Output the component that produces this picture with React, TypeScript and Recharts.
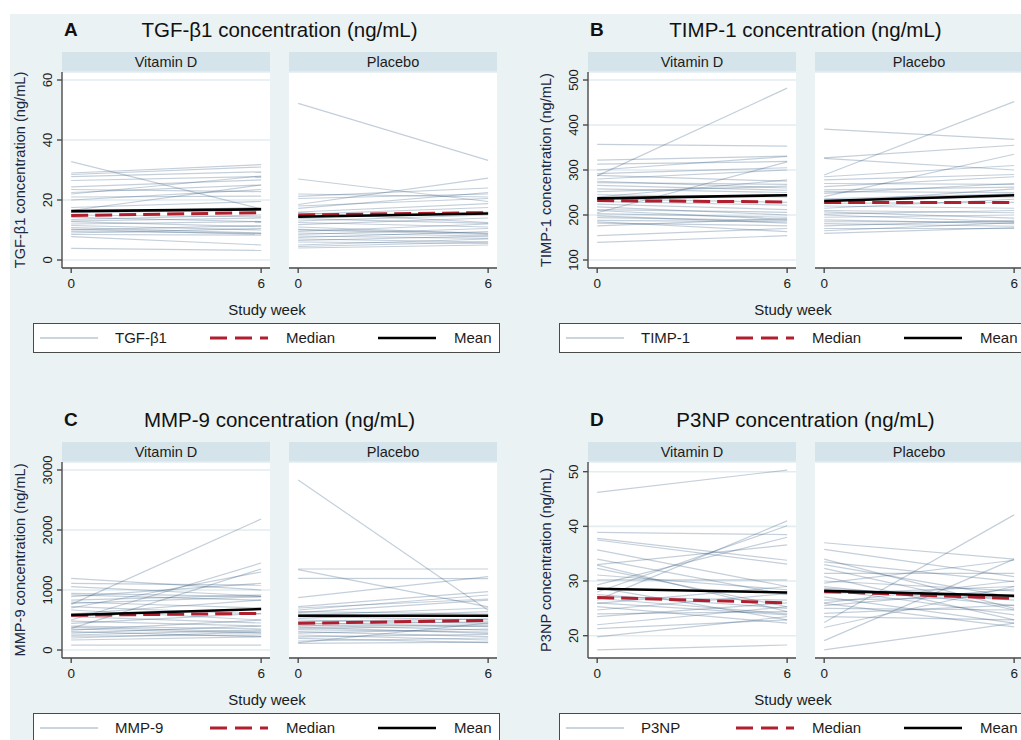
import React from 'react';
import { LineChart, Line, XAxis, YAxis, CartesianGrid } from 'recharts';

// ---------- data: each pair is [week 0, week 6] for one participant ----------
const weeks = [0, 6];

const tgfVitaminD = [
  [32.8, 17.0], [29.0, 31.8], [28.5, 31.0], [27.8, 29.4], [26.5, 27.8], [24.4, 26.7],
  [23.5, 22.8], [22.5, 25.0], [22.0, 28.0], [21.0, 21.3], [20.0, 23.5], [17.5, 19.5],
  [16.5, 25.0], [15.8, 16.7], [15.0, 14.4], [14.2, 12.8], [13.5, 15.0], [12.8, 11.1],
  [12.0, 12.8], [11.5, 10.0], [10.8, 9.0], [10.2, 8.6], [10.0, 11.5], [9.5, 8.9],
  [9.0, 10.5], [8.5, 8.3], [7.8, 5.0], [3.9, 3.2], [13.0, 14.0], [16.0, 17.5],
];
const tgfPlacebo = [
  [52.2, 33.2], [27.0, 19.5], [22.0, 21.0], [21.2, 24.0], [20.5, 22.0], [18.5, 27.3],
  [18.0, 20.5], [17.2, 22.5], [16.0, 18.8], [15.2, 17.5], [14.5, 16.0], [13.8, 12.2],
  [13.0, 15.0], [12.5, 11.0], [11.8, 14.0], [10.2, 9.0], [10.0, 8.5], [9.5, 12.0],
  [9.0, 8.0], [8.5, 10.5], [8.0, 7.2], [7.5, 9.5], [7.0, 6.0], [6.5, 8.0],
  [6.0, 5.5], [5.0, 7.0], [4.5, 6.0], [4.0, 5.0], [11.0, 8.8], [15.8, 12.5],
];
const tgfVitaminDMean = [16.3, 16.9];
const tgfVitaminDMedian = [14.8, 15.8];
const tgfPlaceboMean = [14.4, 15.5];
const tgfPlaceboMedian = [15.0, 15.8];
const tgfTicks = [0, 20, 40, 60];

const timpVitaminD = [
  [287, 482], [357, 353], [322, 331], [313, 319], [300, 330], [292, 305], [288, 275],
  [280, 300], [275, 260], [272, 268], [266, 255], [258, 250], [252, 264], [245, 240],
  [240, 278], [236, 228], [230, 222], [224, 212], [218, 200], [212, 206], [205, 318],
  [203, 195], [198, 182], [194, 188], [188, 185], [182, 176], [176, 192], [154, 170],
  [139, 154], [185, 163], [210, 190],
];
const timpPlacebo = [
  [391, 368], [289, 452], [327, 355], [326, 300], [285, 310], [278, 290], [270, 268],
  [263, 285], [256, 262], [252, 250], [248, 270], [241, 335], [236, 247], [233, 240],
  [228, 258], [226, 228], [220, 215], [215, 235], [210, 205], [207, 193], [202, 210],
  [200, 185], [195, 200], [189, 181], [185, 185], [181, 175], [176, 188], [170, 170],
  [165, 183], [159, 172],
];
const timpVitaminDMean = [237, 244];
const timpVitaminDMedian = [232, 229];
const timpPlaceboMean = [231, 244];
const timpPlaceboMedian = [228, 228];
const timpTicks = [100, 200, 300, 400, 500];

const mmpVitaminD = [
  [761, 2183], [1194, 1000], [1111, 1080], [1056, 900], [944, 889], [920, 830],
  [889, 1111], [833, 917], [800, 700], [778, 889], [722, 600], [700, 1300], [667, 500],
  [600, 833], [556, 450], [500, 1450], [480, 400], [444, 611], [400, 350], [361, 1350],
  [350, 278], [330, 500], [306, 222], [280, 400], [250, 333], [230, 250], [200, 300],
  [167, 222], [83, 83], [380, 300],
];
const mmpPlacebo = [
  [2833, 661], [1350, 1350], [1340, 720], [1194, 1190], [872, 1222], [722, 972],
  [700, 850], [667, 917], [640, 600], [622, 833], [600, 556], [583, 700], [560, 500],
  [528, 640], [500, 444], [472, 520], [450, 389], [430, 470], [417, 333], [400, 420],
  [380, 278], [361, 400], [340, 300], [306, 222], [280, 350], [250, 167], [220, 260],
  [194, 122], [150, 200], [122, 450], [110, 130],
];
const mmpVitaminDMean = [583, 683];
const mmpVitaminDMedian = [578, 611];
const mmpPlaceboMean = [572, 572];
const mmpPlaceboMedian = [444, 494];
const mmpTicks = [0, 1000, 2000, 3000];

const p3npVitaminD = [
  [46.2, 50.3], [38.9, 38.5], [37.8, 33.8], [37.5, 33.1], [35.7, 29.0], [34.0, 27.5],
  [33.0, 36.6], [32.9, 24.4], [32.3, 25.3], [31.1, 28.4], [30.2, 30.2], [29.3, 38.0],
  [28.8, 22.9], [28.0, 40.1], [27.1, 26.5], [26.5, 41.0], [26.0, 23.8], [25.9, 29.0],
  [25.3, 22.3], [24.7, 27.7], [24.0, 24.4], [23.5, 26.0], [22.0, 25.3], [21.3, 22.9],
  [19.8, 23.5], [17.4, 18.3], [26.8, 24.0], [27.5, 25.0],
];
const p3npPlacebo = [
  [37.0, 34.0], [35.8, 30.8], [34.0, 25.0], [33.5, 29.9], [33.0, 27.0], [32.3, 24.7],
  [31.4, 31.4], [30.8, 22.9], [30.0, 28.2], [29.6, 33.8], [28.7, 26.5], [28.5, 23.8],
  [27.7, 29.0], [27.1, 22.3], [26.5, 27.1], [25.9, 21.6], [25.5, 28.5], [25.0, 24.7],
  [24.1, 25.6], [23.5, 22.9], [22.4, 42.1], [21.5, 29.0], [19.1, 34.0], [17.4, 22.3],
  [26.0, 30.0], [29.0, 25.5],
];
const p3npVitaminDMean = [28.6, 27.9];
const p3npVitaminDMedian = [27.0, 26.0];
const p3npPlaceboMean = [28.2, 27.3];
const p3npPlaceboMedian = [28.1, 26.8];
const p3npTicks = [20, 30, 40, 50];

const facetNames = ['Vitamin D', 'Placebo'];
const legendMedian = 'Median';
const legendMean = 'Mean';
const xTitle = 'Study week';

// ---------- styles ----------
const FONT = '"Liberation Sans", Arial, Helvetica, sans-serif';
const BG = '#EAF2F3';
const STRIP = '#D5E4EA';
const SPAG = '#1A476F';
const MEDIAN_C = '#B01F2E';
const AXIS_C = '#4a4a4a';
const TEXT_C = '#1c1c1c';

const PLOT_W = 208;
const PLOT_H = 196;
const Y_AXIS_W = 40;
const X_AXIS_H = 30;
const TOP_PAD = 16;
const FACET_GAP = 227;
const xDomain = [-0.29, 6.28];

type Pair = number[];

const panels = [
  {
    letter: 'A', title: 'TGF-β1 concentration (ng/mL)', yTitle: 'TGF-β1 concentration (ng/mL)',
    legend: 'TGF-β1', ticks: tgfTicks, domain: [-2.67, 62.67], ox: 0, oy: 0,
    facets: [
      { lines: tgfVitaminD, mean: tgfVitaminDMean, median: tgfVitaminDMedian },
      { lines: tgfPlacebo, mean: tgfPlaceboMean, median: tgfPlaceboMedian },
    ],
  },
  {
    letter: 'B', title: 'TIMP-1 concentration (ng/mL)', yTitle: 'TIMP-1 concentration (ng/mL)',
    legend: 'TIMP-1', ticks: timpTicks, domain: [82.2, 517.8], ox: 526, oy: 0,
    facets: [
      { lines: timpVitaminD, mean: timpVitaminDMean, median: timpVitaminDMedian },
      { lines: timpPlacebo, mean: timpPlaceboMean, median: timpPlaceboMedian },
    ],
  },
  {
    letter: 'C', title: 'MMP-9 concentration (ng/mL)', yTitle: 'MMP-9 concentration (ng/mL)',
    legend: 'MMP-9', ticks: mmpTicks, domain: [-133, 3133], ox: 0, oy: 390,
    facets: [
      { lines: mmpVitaminD, mean: mmpVitaminDMean, median: mmpVitaminDMedian },
      { lines: mmpPlacebo, mean: mmpPlaceboMean, median: mmpPlaceboMedian },
    ],
  },
  {
    letter: 'D', title: 'P3NP concentration (ng/mL)', yTitle: 'P3NP concentration (ng/mL)',
    legend: 'P3NP', ticks: p3npTicks, domain: [15.92, 51.77], ox: 526, oy: 390,
    facets: [
      { lines: p3npVitaminD, mean: p3npVitaminDMean, median: p3npVitaminDMedian },
      { lines: p3npPlacebo, mean: p3npPlaceboMean, median: p3npPlaceboMedian },
    ],
  },
];

function YTick(props: any) {
  const { x, y, payload } = props;
  return (
    <text
      x={x}
      y={y}
      dy="0.36em"
      textAnchor="middle"
      fill={TEXT_C}
      fontSize={13}
      transform={`rotate(-90 ${x} ${y})`}
    >
      {payload.value}
    </text>
  );
}

function Facet(props: {
  lines: Pair[]; mean: number[]; median: number[]; ticks: number[]; domain: number[]; showY: boolean;
}) {
  const { lines, mean, median, ticks, domain, showY } = props;
  const data = weeks.map((w, i) => {
    const row: any = { week: w, mean: mean[i], median: median[i] };
    lines.forEach((l, j) => { row['s' + j] = l[i]; });
    return row;
  });
  return (
    <LineChart
      width={Y_AXIS_W + PLOT_W}
      height={TOP_PAD + PLOT_H + X_AXIS_H}
      data={data}
      margin={{ top: TOP_PAD, right: 0, bottom: 0, left: 0 }}
    >
      <CartesianGrid vertical={false} fill="#ffffff" stroke="#E3EDF0" strokeWidth={1.6} />
      <XAxis
        dataKey="week"
        type="number"
        domain={xDomain}
        ticks={weeks}
        interval={0}
        allowDataOverflow
        height={X_AXIS_H}
        tickSize={5}
        tickMargin={5}
        stroke={AXIS_C}
        strokeWidth={1.4}
        tick={{ fill: TEXT_C, fontSize: 13.5 }}
      />
      <YAxis
        type="number"
        domain={domain}
        ticks={ticks}
        interval={0}
        allowDataOverflow
        width={Y_AXIS_W}
        tickSize={5}
        tickMargin={10}
        stroke={AXIS_C}
        strokeWidth={1.4}
        axisLine={showY}
        tickLine={showY}
        tick={showY ? <YTick /> : false}
      />
      {lines.map((_, j) => (
        <Line
          key={j}
          type="linear"
          dataKey={'s' + j}
          stroke={SPAG}
          strokeOpacity={0.26}
          strokeWidth={1.2}
          dot={false}
          activeDot={false}
          isAnimationActive={false}
        />
      ))}
      <Line
        type="linear"
        dataKey="median"
        stroke={MEDIAN_C}
        strokeWidth={3}
        strokeDasharray="17 7"
        dot={false}
        activeDot={false}
        isAnimationActive={false}
      />
      <Line
        type="linear"
        dataKey="mean"
        stroke="#000000"
        strokeWidth={2.6}
        dot={false}
        activeDot={false}
        isAnimationActive={false}
      />
    </LineChart>
  );
}

function Legend(props: { x: number; y: number; label: string }) {
  const { x, y, label } = props;
  const cy = 15;
  const txt = { fontSize: 15, fill: TEXT_C, fontFamily: FONT } as any;
  return (
    <div
      style={{
        position: 'absolute', left: x, top: y, width: 467, height: 30,
        boxSizing: 'border-box', border: '1.5px solid #4a4a4a', background: '#fff',
      }}
    >
      <svg width={467} height={30} style={{ position: 'absolute', left: -1.5, top: -1.5 }}>
        <line x1={7} x2={65} y1={cy} y2={cy} stroke="#C9D6E0" strokeWidth={2} />
        <text x={82} y={cy} dy="0.35em" style={txt}>{label}</text>
        <line x1={177} x2={235} y1={cy} y2={cy} stroke={MEDIAN_C} strokeWidth={3} strokeDasharray="17 8" />
        <text x={253} y={cy} dy="0.35em" style={txt}>{legendMedian}</text>
        <line x1={345} x2={403} y1={cy} y2={cy} stroke="#000" strokeWidth={2.6} />
        <text x={421} y={cy} dy="0.35em" style={txt}>{legendMean}</text>
      </svg>
    </div>
  );
}

function Panel(props: { p: typeof panels[number] }) {
  const { p } = props;
  const plotX = 62 + p.ox;
  const plotY = 72 + p.oy;
  return (
    <>
      <div style={{ position: 'absolute', left: 64 + p.ox, top: 30 + p.oy, transform: 'translateY(-50%)', fontSize: 19, fontWeight: 'bold', color: '#111' }}>
        {p.letter}
      </div>
      <div style={{ position: 'absolute', left: 279.5 + p.ox, top: 30 + p.oy, transform: 'translate(-50%,-50%)', fontSize: 20.5, color: '#111', whiteSpace: 'nowrap' }}>
        {p.title}
      </div>
      <div style={{ position: 'absolute', left: 20 + p.ox, top: plotY + PLOT_H / 2, transform: 'translate(-50%,-50%) rotate(-90deg)', fontSize: 14.6, color: '#1d2740', whiteSpace: 'nowrap' }}>
        {p.yTitle}
      </div>
      {p.facets.map((f, i) => (
        <React.Fragment key={i}>
          <div style={{
            position: 'absolute', left: plotX + i * FACET_GAP, top: plotY - 20, width: PLOT_W, height: 20,
            background: STRIP, display: 'flex', alignItems: 'center', justifyContent: 'center',
            fontSize: 14.5, color: TEXT_C,
          }}>
            {facetNames[i]}
          </div>
          <div style={{ position: 'absolute', left: plotX + i * FACET_GAP - Y_AXIS_W, top: plotY - TOP_PAD }}>
            <Facet lines={f.lines} mean={f.mean} median={f.median} ticks={p.ticks} domain={p.domain} showY={i === 0} />
          </div>
        </React.Fragment>
      ))}
      <div style={{ position: 'absolute', left: 267 + p.ox, top: 309 + p.oy, transform: 'translate(-50%,-50%)', fontSize: 15, color: TEXT_C, whiteSpace: 'nowrap' }}>
        {xTitle}
      </div>
      <Legend x={33 + p.ox} y={323 + p.oy} label={p.legend} />
    </>
  );
}

export default function App() {
  return (
    <div style={{ position: 'absolute', left: 0, top: 0, width: 1021, height: 740, overflow: 'hidden', background: '#fff', fontFamily: FONT }}>
      <div style={{ position: 'absolute', left: 10, top: 14, right: 0, bottom: 0, background: BG }} />
      {panels.map((p) => (
        <Panel key={p.letter} p={p} />
      ))}
    </div>
  );
}
